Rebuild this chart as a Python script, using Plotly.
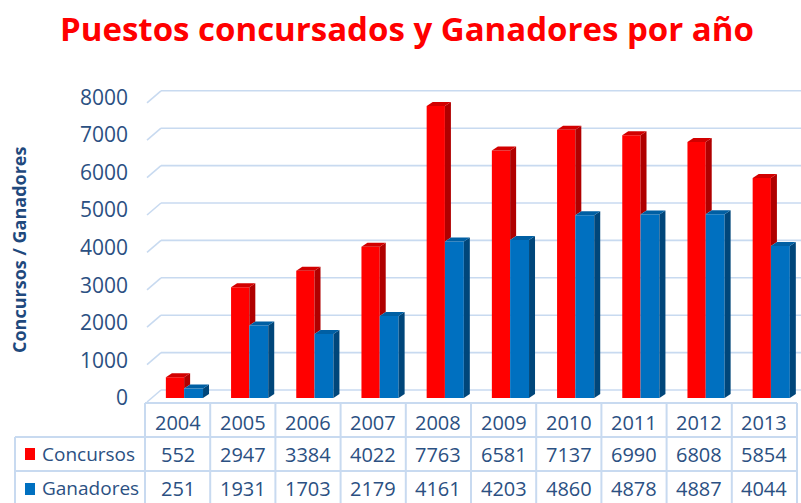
import plotly.graph_objects as go

years = ["2004", "2005", "2006", "2007", "2008", "2009", "2010", "2011", "2012", "2013"]
concursos = [552, 2947, 3384, 4022, 7763, 6581, 7137, 6990, 6808, 5854]
ganadores = [251, 1931, 1703, 2179, 4161, 4203, 4860, 4878, 4887, 4044]
series_names = ["Concursos", "Ganadores"]
y_ticks = [0, 1000, 2000, 3000, 4000, 5000, 6000, 7000, 8000]

W, H = 801, 503
FONT = "Open Sans"
TXT = "#2B5082"
GRID = "#C8DAF0"

RED, RED_SIDE, RED_TOP = "#FF0000", "#B00000", "#D20000"
BLUE, BLUE_SIDE, BLUE_TOP = "#0070C0", "#00467A", "#005FA3"


def px(x):
    return x / W


def py(y):
    return 1 - y / H


# plot geometry (pixels)
X0, X1 = 145, 797
COLW = (X1 - X0) / len(years)
BAR_BASE, PX_PER_K = 398, 37.6
FRONT_BASE, FRONT_PER_K = 402, 37.4
LABEL_BASE = 405
DEPTH_X, DEPTH_Y = 14, 12  # wall perspective

bar_w_red, bar_off_red = 0.28, -0.18
bar_w_blue, bar_off_blue = 0.29, 0.10
dx = 6 / COLW
dy = 4 / PX_PER_K * 1000

xs = list(range(len(years)))

fig = go.Figure()
fig.add_trace(go.Bar(x=xs, y=concursos, width=bar_w_red, offset=bar_off_red,
                     marker=dict(color=RED, line=dict(width=0)), name=series_names[0],
                     hoverinfo="skip"))
fig.add_trace(go.Bar(x=xs, y=ganadores, width=bar_w_blue, offset=bar_off_blue,
                     marker=dict(color=BLUE, line=dict(width=0)), name=series_names[1],
                     hoverinfo="skip"))
# invisible trace to carry the tick-label axis
fig.add_trace(go.Scatter(x=[0, 0], y=[y_ticks[0], y_ticks[-1]], yaxis="y2", mode="none",
                         hoverinfo="skip", showlegend=False))

shapes = []

# back wall gridlines with perspective connector
for v in y_ticks:
    yf = FRONT_BASE - v / 1000 * FRONT_PER_K
    yb = yf - DEPTH_Y
    xb = 147 + DEPTH_X
    shapes.append(dict(type="line", xref="paper", yref="paper", x0=px(147), y0=py(yf),
                       x1=px(xb), y1=py(yb), line=dict(color=GRID, width=1.6), layer="below"))
    shapes.append(dict(type="line", xref="paper", yref="paper", x0=px(xb), y0=py(yb),
                       x1=px(W), y1=py(yb), line=dict(color=GRID, width=1.6), layer="below"))

# 3D faces of bars
for i, (r, b) in enumerate(zip(concursos, ganadores)):
    xl = i + bar_off_red
    xr = xl + bar_w_red
    low = min(b, r)
    shapes.append(dict(type="path", xref="x", yref="y", layer="above", line=dict(width=0),
                       fillcolor=RED_SIDE,
                       path=f"M{xr},{low} L{xr+dx},{low+dy} L{xr+dx},{r+dy} L{xr},{r} Z"))
    shapes.append(dict(type="path", xref="x", yref="y", layer="above", line=dict(width=0),
                       fillcolor=RED_TOP,
                       path=f"M{xl},{r} L{xl+dx},{r+dy} L{xr+dx},{r+dy} L{xr},{r} Z"))
    xl = i + bar_off_blue
    xr = xl + bar_w_blue
    shapes.append(dict(type="path", xref="x", yref="y", layer="above", line=dict(width=0),
                       fillcolor=BLUE_SIDE,
                       path=f"M{xr},0 L{xr+dx},{dy} L{xr+dx},{b+dy} L{xr},{b} Z"))
    shapes.append(dict(type="path", xref="x", yref="y", layer="above", line=dict(width=0),
                       fillcolor=BLUE_TOP,
                       path=f"M{xl},{b} L{xl+dx},{b+dy} L{xr+dx},{b+dy} L{xr},{b} Z"))

# data table grid
TY0, TY1, TY2, TY3 = 403, 437, 471, 503
LX = 15
tl = dict(color=GRID, width=2)
shapes.append(dict(type="line", xref="paper", yref="paper", x0=px(X0), x1=px(X1),
                   y0=py(TY0), y1=py(TY0), line=tl))
for yy in (TY1, TY2):
    shapes.append(dict(type="line", xref="paper", yref="paper", x0=px(LX), x1=px(X1),
                       y0=py(yy), y1=py(yy), line=tl))
shapes.append(dict(type="line", xref="paper", yref="paper", x0=px(LX), x1=px(LX),
                   y0=py(TY1), y1=py(TY3), line=tl))
for k in range(len(years) + 1):
    xx = X0 + k * COLW
    shapes.append(dict(type="line", xref="paper", yref="paper", x0=px(xx), x1=px(xx),
                       y0=py(TY0), y1=py(TY3), line=tl))

for yc, col in ((454, RED), (489, BLUE)):
    shapes.append(dict(type="rect", xref="paper", yref="paper", x0=px(25), x1=px(35),
                       y0=py(yc - 6), y1=py(yc + 6), fillcolor=col, line=dict(width=0)))

annotations = []
tfont = dict(family=FONT, size=20, color=TXT)
lfont = dict(family=FONT, size=19, color=TXT)
for i in range(len(years)):
    xc = px(X0 + (i + 0.5) * COLW)
    annotations.append(dict(text=years[i], x=xc, y=py(422), xref="paper", yref="paper",
                            showarrow=False, font=tfont, xanchor="center", yanchor="middle"))
    annotations.append(dict(text=str(concursos[i]), x=xc, y=py(454), xref="paper", yref="paper",
                            showarrow=False, font=tfont, xanchor="center", yanchor="middle"))
    annotations.append(dict(text=str(ganadores[i]), x=xc, y=py(488), xref="paper", yref="paper",
                            showarrow=False, font=tfont, xanchor="center", yanchor="middle"))
for name, yc in zip(series_names, (454, 488)):
    annotations.append(dict(text=name, x=px(40), y=py(yc), xref="paper", yref="paper",
                            showarrow=False, font=lfont, xanchor="left", yanchor="middle"))

annotations.append(dict(text="<b>Puestos concursados y Ganadores por año</b>",
                        x=px(407), y=py(28), xref="paper", yref="paper", showarrow=False,
                        font=dict(family=FONT, size=33, color="#FF0000"),
                        xanchor="center", yanchor="middle"))
annotations.append(dict(text="<b>Concursos / Ganadores</b>", x=px(19), y=py(250),
                        xref="paper", yref="paper", showarrow=False, textangle=-90,
                        font=dict(family=FONT, size=18, color="#1F497D"),
                        xanchor="center", yanchor="middle"))

fig.update_layout(
    width=W, height=H,
    margin=dict(l=0, r=0, t=0, b=0, pad=0, autoexpand=False),
    paper_bgcolor="white", plot_bgcolor="rgba(0,0,0,0)",
    showlegend=False,
    barmode="overlay",
    xaxis=dict(domain=[px(X0), px(X1)], range=[-0.5, len(years) - 0.5], visible=False,
               fixedrange=True),
    yaxis=dict(domain=[py(BAR_BASE), py(BAR_BASE - 8 * PX_PER_K)], range=[0, 8000],
               visible=False, fixedrange=True),
    yaxis2=dict(domain=[py(LABEL_BASE), py(LABEL_BASE - 8 * FRONT_PER_K)], range=[0, 8000],
                overlaying="y", anchor="free", position=px(147), side="left",
                tickvals=y_ticks, ticktext=[str(v) for v in y_ticks],
                showgrid=False, zeroline=False, showline=False, ticks="",
                ticklabelstandoff=19, automargin=False,
                tickfont=dict(family=FONT, size=21, color=TXT), fixedrange=True),
    shapes=shapes,
    annotations=annotations,
)

fig.write_html("out.html", config={"displayModeBar": False},
               post_script="document.body.style.margin='0';")
